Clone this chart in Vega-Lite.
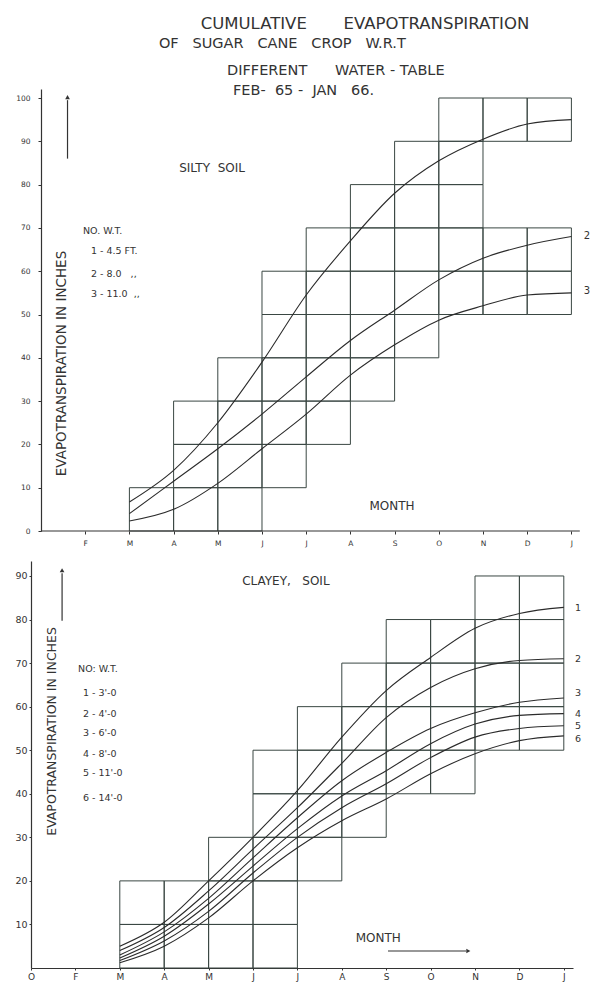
{
 "$schema": "https://vega.github.io/schema/vega-lite/v6.json",
 "background": "white",
 "padding": {"left": 14, "top": 15, "right": 0, "bottom": 4},
 "spacing": 30,
 "bounds": "flush",
 "config": {
  "view": {"stroke": null},
  "font": "DejaVu Sans",
  "axis": {"grid": false, "labelFont": "DejaVu Sans", "titleFont": "DejaVu Sans", "labelColor": "#333", "titleColor": "#333", "domainColor": "#333", "tickColor": "#333", "titleFontWeight": "normal", "labelFlush": false, "labelOverlap": false, "labelBound": false, "domainWidth": 1.2}
 },
 "datasets": {
  "topCells": [
   {"m":2,"m2":3,"v":0,"v2":10},
   {"m":3,"m2":4,"v":0,"v2":10},{"m":3,"m2":4,"v":10,"v2":20},{"m":3,"m2":4,"v":20,"v2":30},
   {"m":4,"m2":5,"v":0,"v2":10},{"m":4,"m2":5,"v":10,"v2":20},{"m":4,"m2":5,"v":20,"v2":30},{"m":4,"m2":5,"v":30,"v2":40},
   {"m":5,"m2":6,"v":10,"v2":20},{"m":5,"m2":6,"v":20,"v2":30},{"m":5,"m2":6,"v":30,"v2":40},{"m":5,"m2":6,"v":40,"v2":50},{"m":5,"m2":6,"v":50,"v2":60},
   {"m":6,"m2":7,"v":20,"v2":30},{"m":6,"m2":7,"v":30,"v2":40},{"m":6,"m2":7,"v":40,"v2":50},{"m":6,"m2":7,"v":50,"v2":60},{"m":6,"m2":7,"v":60,"v2":70},
   {"m":7,"m2":8,"v":30,"v2":40},{"m":7,"m2":8,"v":40,"v2":50},{"m":7,"m2":8,"v":50,"v2":60},{"m":7,"m2":8,"v":60,"v2":70},{"m":7,"m2":8,"v":70,"v2":80},
   {"m":8,"m2":9,"v":40,"v2":50},{"m":8,"m2":9,"v":50,"v2":60},{"m":8,"m2":9,"v":60,"v2":70},{"m":8,"m2":9,"v":70,"v2":80},{"m":8,"m2":9,"v":80,"v2":90},
   {"m":9,"m2":10,"v":50,"v2":60},{"m":9,"m2":10,"v":60,"v2":70},{"m":9,"m2":10,"v":70,"v2":80},{"m":9,"m2":10,"v":80,"v2":90},{"m":9,"m2":10,"v":90,"v2":100},
   {"m":10,"m2":11,"v":50,"v2":60},{"m":10,"m2":11,"v":60,"v2":70},{"m":10,"m2":11,"v":90,"v2":100},
   {"m":11,"m2":12,"v":50,"v2":60},{"m":11,"m2":12,"v":60,"v2":70},{"m":11,"m2":12,"v":90,"v2":100}
  ],
  "botCells": [
   {"m":2,"m2":3,"v":0,"v2":10},{"m":2,"m2":3,"v":10,"v2":20},
   {"m":3,"m2":4,"v":0,"v2":10},{"m":3,"m2":4,"v":10,"v2":20},
   {"m":4,"m2":5,"v":0,"v2":10},{"m":4,"m2":5,"v":10,"v2":20},{"m":4,"m2":5,"v":20,"v2":30},
   {"m":5,"m2":6,"v":0,"v2":10},{"m":5,"m2":6,"v":10,"v2":20},{"m":5,"m2":6,"v":20,"v2":30},{"m":5,"m2":6,"v":30,"v2":40},{"m":5,"m2":6,"v":40,"v2":50},
   {"m":6,"m2":7,"v":20,"v2":30},{"m":6,"m2":7,"v":30,"v2":40},{"m":6,"m2":7,"v":40,"v2":50},{"m":6,"m2":7,"v":50,"v2":60},
   {"m":7,"m2":8,"v":30,"v2":40},{"m":7,"m2":8,"v":40,"v2":50},{"m":7,"m2":8,"v":50,"v2":60},{"m":7,"m2":8,"v":60,"v2":70},
   {"m":8,"m2":9,"v":40,"v2":50},{"m":8,"m2":9,"v":50,"v2":60},{"m":8,"m2":9,"v":60,"v2":70},{"m":8,"m2":9,"v":70,"v2":80},
   {"m":9,"m2":10,"v":40,"v2":50},{"m":9,"m2":10,"v":50,"v2":60},{"m":9,"m2":10,"v":60,"v2":70},{"m":9,"m2":10,"v":70,"v2":80},
   {"m":10,"m2":11,"v":50,"v2":60},{"m":10,"m2":11,"v":60,"v2":70},{"m":10,"m2":11,"v":70,"v2":80},{"m":10,"m2":11,"v":80,"v2":90},
   {"m":11,"m2":12,"v":50,"v2":60},{"m":11,"m2":12,"v":60,"v2":70},{"m":11,"m2":12,"v":70,"v2":80},{"m":11,"m2":12,"v":80,"v2":90}
  ],
  "topCurves": [
   {"s":"1","m":2,"v":6.7},{"s":"1","m":3,"v":14},{"s":"1","m":4,"v":25},{"s":"1","m":5,"v":39},{"s":"1","m":6,"v":54.5},{"s":"1","m":7,"v":67},{"s":"1","m":8,"v":78},{"s":"1","m":9,"v":85.5},{"s":"1","m":10,"v":90.5},{"s":"1","m":11,"v":94},{"s":"1","m":12,"v":95},
   {"s":"2","m":2,"v":4},{"s":"2","m":3,"v":11.5},{"s":"2","m":4,"v":19},{"s":"2","m":5,"v":27},{"s":"2","m":6,"v":35.6},{"s":"2","m":7,"v":44},{"s":"2","m":8,"v":51},{"s":"2","m":9,"v":58},{"s":"2","m":10,"v":63},{"s":"2","m":11,"v":66},{"s":"2","m":12,"v":68},
   {"s":"3","m":2,"v":2.3},{"s":"3","m":3,"v":5},{"s":"3","m":4,"v":11},{"s":"3","m":5,"v":19},{"s":"3","m":6,"v":27},{"s":"3","m":7,"v":36},{"s":"3","m":8,"v":43},{"s":"3","m":9,"v":48.7},{"s":"3","m":10,"v":52},{"s":"3","m":11,"v":54.5},{"s":"3","m":12,"v":55}
  ],
  "botCurves": [
   {"s":"1","m":2,"v":5},{"s":"1","m":3,"v":10.5},{"s":"1","m":4,"v":20},{"s":"1","m":5,"v":30},{"s":"1","m":6,"v":40.7},{"s":"1","m":7,"v":53},{"s":"1","m":8,"v":63.7},{"s":"1","m":9,"v":71.3},{"s":"1","m":10,"v":78},{"s":"1","m":11,"v":81.4},{"s":"1","m":12,"v":82.8},
   {"s":"2","m":2,"v":4},{"s":"2","m":3,"v":9.3},{"s":"2","m":4,"v":17.7},{"s":"2","m":5,"v":27.3},{"s":"2","m":6,"v":36.8},{"s":"2","m":7,"v":47},{"s":"2","m":8,"v":57.5},{"s":"2","m":9,"v":64.4},{"s":"2","m":10,"v":68.7},{"s":"2","m":11,"v":70.6},{"s":"2","m":12,"v":71},
   {"s":"3","m":2,"v":3},{"s":"3","m":3,"v":8.3},{"s":"3","m":4,"v":16},{"s":"3","m":5,"v":25.3},{"s":"3","m":6,"v":34.5},{"s":"3","m":7,"v":43},{"s":"3","m":8,"v":49.5},{"s":"3","m":9,"v":55},{"s":"3","m":10,"v":58.6},{"s":"3","m":11,"v":61},{"s":"3","m":12,"v":62},
   {"s":"4","m":2,"v":2.3},{"s":"4","m":3,"v":7.3},{"s":"4","m":4,"v":14.7},{"s":"4","m":5,"v":23.4},{"s":"4","m":6,"v":32},{"s":"4","m":7,"v":39.5},{"s":"4","m":8,"v":45.3},{"s":"4","m":9,"v":51.5},{"s":"4","m":10,"v":56},{"s":"4","m":11,"v":58},{"s":"4","m":12,"v":58.4},
   {"s":"5","m":2,"v":1.7},{"s":"5","m":3,"v":6.2},{"s":"5","m":4,"v":13},{"s":"5","m":5,"v":21.8},{"s":"5","m":6,"v":30},{"s":"5","m":7,"v":36.8},{"s":"5","m":8,"v":42.3},{"s":"5","m":9,"v":48.3},{"s":"5","m":10,"v":53},{"s":"5","m":11,"v":55},{"s":"5","m":12,"v":55.6},
   {"s":"6","m":2,"v":1.2},{"s":"6","m":3,"v":5},{"s":"6","m":4,"v":11.5},{"s":"6","m":5,"v":20},{"s":"6","m":6,"v":27.6},{"s":"6","m":7,"v":33.8},{"s":"6","m":8,"v":38.8},{"s":"6","m":9,"v":44.6},{"s":"6","m":10,"v":49.2},{"s":"6","m":11,"v":52.2},{"s":"6","m":12,"v":53.3}
  ],
  "topText": [
   {"kind":"t1","m":7.33,"v":117.1,"txt":"CUMULATIVE\u00a0\u00a0\u00a0\u00a0\u00a0\u00a0 EVAPOTRANSPIRATION"},
   {"kind":"t2","m":5.46,"v":112.5,"txt":"OF\u00a0\u00a0 SUGAR\u00a0\u00a0 CANE\u00a0\u00a0 CROP\u00a0\u00a0 W.R.T"},
   {"kind":"t2","m":6.67,"v":106.2,"txt":"DIFFERENT\u00a0\u00a0\u00a0\u00a0\u00a0 WATER\u00a0-\u00a0TABLE"},
   {"kind":"t2","m":5.94,"v":101.6,"txt":"FEB-\u00a0 65 -\u00a0 JAN\u00a0\u00a0 66."},
   {"kind":"lab","m":3.87,"v":83.8,"txt":"SILTY\u00a0 SOIL"},
   {"kind":"lab","m":7.94,"v":5.8,"txt":"MONTH"},
   {"kind":"leg","m":0.95,"v":69.3,"txt":"NO. W.T."},
   {"kind":"leg","m":1.13,"v":64.7,"txt":"1 - 4.5 FT."},
   {"kind":"leg","m":1.13,"v":59.4,"txt":"2 - 8.0\u00a0\u00a0 ,,"},
   {"kind":"leg","m":1.13,"v":54.7,"txt":"3 - 11.0\u00a0 ,,"},
   {"kind":"num","m":12.35,"v":68.1,"txt":"2"},
   {"kind":"num","m":12.35,"v":55.4,"txt":"3"}
  ],
  "botText": [
   {"kind":"lab","m":5.74,"v":88.8,"txt":"CLAYEY,\u00a0\u00a0 SOIL"},
   {"kind":"lab","m":7.82,"v":6.9,"txt":"MONTH"},
   {"kind":"leg","m":1.06,"v":68.6,"txt":"NO: W.T."},
   {"kind":"leg","m":1.17,"v":63.1,"txt":"1 - 3'-0"},
   {"kind":"leg","m":1.17,"v":58.3,"txt":"2 - 4'-0"},
   {"kind":"leg","m":1.17,"v":53.9,"txt":"3 - 6'-0"},
   {"kind":"leg","m":1.17,"v":49.1,"txt":"4 - 8'-0"},
   {"kind":"leg","m":1.17,"v":44.8,"txt":"5 - 11'-0"},
   {"kind":"leg","m":1.17,"v":39.0,"txt":"6 - 14'-0"},
   {"kind":"num","m":12.32,"v":82.6,"txt":"1"},
   {"kind":"num","m":12.32,"v":70.9,"txt":"2"},
   {"kind":"num","m":12.32,"v":63.1,"txt":"3"},
   {"kind":"num","m":12.32,"v":58.3,"txt":"4"},
   {"kind":"num","m":12.32,"v":55.6,"txt":"5"},
   {"kind":"num","m":12.32,"v":52.6,"txt":"6"}
  ],
  "topRules": [
   {"kind":"h","m":0,"m2":12.19,"v":0},
   {"kind":"v","m":0.6,"v":86,"v2":99.5}
  ],
  "topHeads": [{"m":0.6,"v":100.2}],
  "botRules": [
   {"kind":"v","m":0.7,"v":79.7,"v2":90.6},
   {"kind":"h","m":8.04,"m2":9.8,"v":3.9}
  ],
  "botHeadsUp": [{"m":0.7,"v":91.3}],
  "botHeadsRight": [{"m":9.85,"v":3.9}]
 },
 "vconcat": [
  {
   "width": 549, "height": 442,
   "encoding": {
    "x": {"field": "m", "type": "quantitative", "scale": {"domain": [-0.2262, 12.1946], "nice": false, "zero": false},
     "axis": {"values": [1,2,3,4,5,6,7,8,9,10,11,12], "labelExpr": "['','F','M','A','M','J','J','A','S','O','N','D','J'][datum.value]", "domain": false, "tickSize": 3, "labelPadding": 5, "labelFontSize": 7.5, "title": null}},
    "y": {"field": "v", "type": "quantitative", "scale": {"domain": [0, 102.08], "nice": false, "zero": false},
     "axis": {"values": [0,10,20,30,40,50,60,70,80,90,100], "offset": -10, "tickSize": 3, "labelPadding": 8, "labelFontSize": 7.5, "title": "EVAPOTRANSPIRATION IN INCHES", "titleX": 20, "titleY": 274, "titleAngle": -90, "titleAlign": "center", "titleBaseline": "middle", "titleFontSize": 13.5}}
   },
   "layer": [
    {"data": {"name": "topCells"}, "mark": {"type": "rect", "filled": false, "color": "#3a4743", "strokeWidth": 1}, "encoding": {"x2": {"field": "m2"}, "y2": {"field": "v2"}}},
    {"data": {"name": "topCurves"}, "mark": {"type": "line", "interpolate": "monotone", "color": "#2b2b2b", "strokeWidth": 1.1}, "encoding": {"detail": {"field": "s"}}},
    {"data": {"name": "topRules"}, "transform": [{"filter": "datum.kind === 'h'"}], "mark": {"type": "rule", "color": "#333", "strokeWidth": 1.2}, "encoding": {"x2": {"field": "m2"}}},
    {"data": {"name": "topRules"}, "transform": [{"filter": "datum.kind === 'v'"}], "mark": {"type": "rule", "color": "#333", "strokeWidth": 1.2}, "encoding": {"y2": {"field": "v2"}}},
    {"data": {"name": "topHeads"}, "mark": {"type": "point", "shape": "triangle-up", "filled": true, "size": 22, "color": "#333", "opacity": 1}},
    {"data": {"name": "topText"}, "transform": [{"filter": "datum.kind === 't1'"}], "mark": {"type": "text", "fontSize": 16.5, "color": "#333", "align": "center", "baseline": "middle"}, "encoding": {"text": {"field": "txt"}}},
    {"data": {"name": "topText"}, "transform": [{"filter": "datum.kind === 't2'"}], "mark": {"type": "text", "fontSize": 14.5, "color": "#333", "align": "center", "baseline": "middle"}, "encoding": {"text": {"field": "txt"}}},
    {"data": {"name": "topText"}, "transform": [{"filter": "datum.kind === 'lab'"}], "mark": {"type": "text", "fontSize": 12, "color": "#333", "align": "center", "baseline": "middle"}, "encoding": {"text": {"field": "txt"}}},
    {"data": {"name": "topText"}, "transform": [{"filter": "datum.kind === 'leg'"}], "mark": {"type": "text", "fontSize": 9.5, "color": "#333", "align": "left", "baseline": "middle"}, "encoding": {"text": {"field": "txt"}}},
    {"data": {"name": "topText"}, "transform": [{"filter": "datum.kind === 'num'"}], "mark": {"type": "text", "fontSize": 10, "color": "#333", "align": "center", "baseline": "middle"}, "encoding": {"text": {"field": "txt"}}}
   ]
  },
  {
   "width": 542, "height": 407,
   "encoding": {
    "x": {"field": "m", "type": "quantitative", "scale": {"domain": [0, 12.207], "nice": false, "zero": false},
     "axis": {"values": [0,1,2,3,4,5,6,7,8,9,10,11,12], "labelExpr": "['O','F','M','A','M','J','J','A','S','O','N','D','J'][datum.value]", "domain": true, "tickSize": 2, "labelPadding": 2, "labelFontSize": 9, "title": null}},
    "y": {"field": "v", "type": "quantitative", "scale": {"domain": [0, 93.44], "nice": false, "zero": false},
     "axis": {"values": [10,20,30,40,50,60,70,80,90], "tickSize": 2, "labelPadding": 2, "labelFontSize": 9.5, "title": "EVAPOTRANSPIRATION IN INCHES", "titleX": 20, "titleY": 170, "titleAngle": -90, "titleAlign": "center", "titleBaseline": "middle", "titleFontSize": 12.5}}
   },
   "layer": [
    {"data": {"name": "botCells"}, "mark": {"type": "rect", "filled": false, "color": "#3a4743", "strokeWidth": 1}, "encoding": {"x2": {"field": "m2"}, "y2": {"field": "v2"}}},
    {"data": {"name": "botCurves"}, "mark": {"type": "line", "interpolate": "monotone", "color": "#2b2b2b", "strokeWidth": 1.1}, "encoding": {"detail": {"field": "s"}}},
    {"data": {"name": "botRules"}, "transform": [{"filter": "datum.kind === 'h'"}], "mark": {"type": "rule", "color": "#333", "strokeWidth": 1.2}, "encoding": {"x2": {"field": "m2"}}},
    {"data": {"name": "botRules"}, "transform": [{"filter": "datum.kind === 'v'"}], "mark": {"type": "rule", "color": "#333", "strokeWidth": 1.2}, "encoding": {"y2": {"field": "v2"}}},
    {"data": {"name": "botHeadsUp"}, "mark": {"type": "point", "shape": "triangle-up", "filled": true, "size": 22, "color": "#333", "opacity": 1}},
    {"data": {"name": "botHeadsRight"}, "mark": {"type": "point", "shape": "triangle-right", "filled": true, "size": 22, "color": "#333", "opacity": 1}},
    {"data": {"name": "botText"}, "transform": [{"filter": "datum.kind === 'lab'"}], "mark": {"type": "text", "fontSize": 12, "color": "#333", "align": "center", "baseline": "middle"}, "encoding": {"text": {"field": "txt"}}},
    {"data": {"name": "botText"}, "transform": [{"filter": "datum.kind === 'leg'"}], "mark": {"type": "text", "fontSize": 9.5, "color": "#333", "align": "left", "baseline": "middle"}, "encoding": {"text": {"field": "txt"}}},
    {"data": {"name": "botText"}, "transform": [{"filter": "datum.kind === 'num'"}], "mark": {"type": "text", "fontSize": 9.5, "color": "#333", "align": "center", "baseline": "middle"}, "encoding": {"text": {"field": "txt"}}}
   ]
  }
 ]
}
